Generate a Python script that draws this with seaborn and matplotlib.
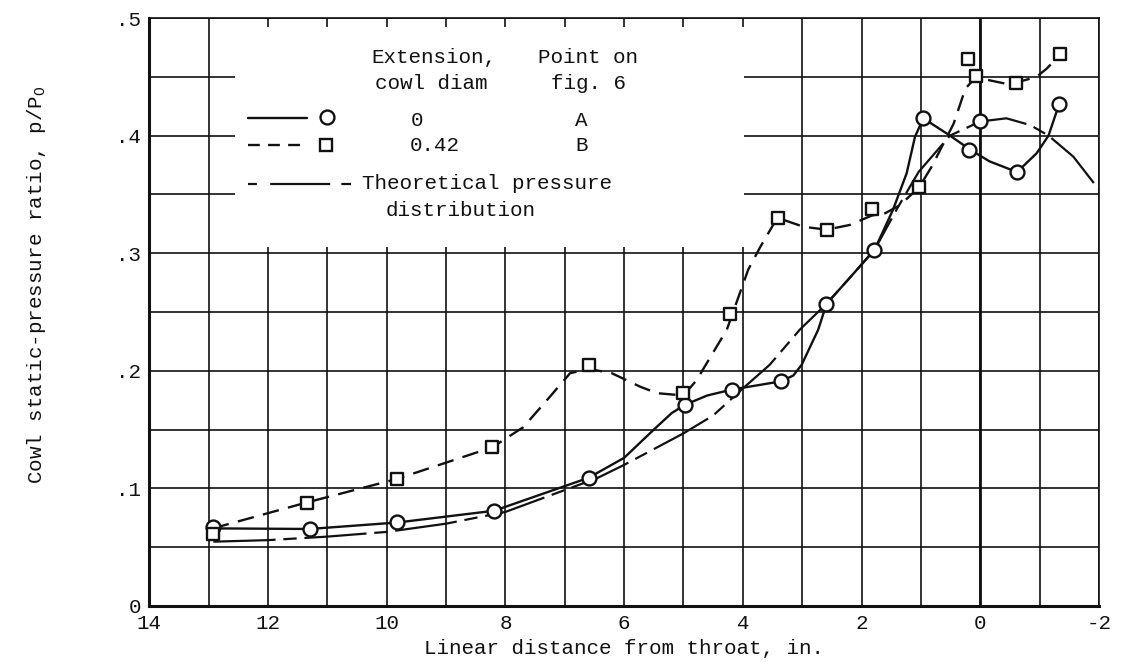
import numpy as np
import pandas as pd
import seaborn as sns
import matplotlib
matplotlib.use("Agg")
import matplotlib.pyplot as plt
from matplotlib.lines import Line2D
from matplotlib.patches import Rectangle

# ---------------- data ----------------
# Extension 0 cowl diam (point A) - circles, solid faired curve
A_x = [12.92, 11.30, 9.82, 8.19, 6.60, 4.98, 4.19, 3.36, 2.60, 1.79, 0.97, 0.19, 0.0, -0.62, -1.33]
A_y = [0.067, 0.0655, 0.0714, 0.081, 0.109, 0.171, 0.184, 0.191, 0.257, 0.303, 0.4147, 0.388, 0.412, 0.369, 0.427]
A_line_x = [12.92, 11.30, 9.82, 8.19, 6.60, 6.0, 5.5, 5.2, 4.98, 4.6, 4.19, 3.36, 3.15, 3.01, 2.73,
            2.59, 2.2, 1.78, 1.47, 1.24, 1.10, 0.96, 0.51, 0.17, -0.16, -0.62, -0.95, -1.15, -1.33]
A_line_y = [0.066, 0.0655, 0.071, 0.081, 0.109, 0.126, 0.150, 0.164, 0.171, 0.179, 0.184, 0.191, 0.196,
            0.205, 0.235, 0.257, 0.279, 0.303, 0.337, 0.368, 0.399, 0.4147, 0.40, 0.388, 0.378, 0.369,
            0.385, 0.40, 0.427]

# Extension 0.42 cowl diam (point B) - squares, dashed faired curve
B_x = [12.93, 11.35, 9.83, 8.22, 6.59, 5.0, 4.22, 3.41, 2.59, 1.83, 1.03, 0.21, 0.07, -0.60, -1.35]
B_y = [0.061, 0.088, 0.108, 0.135, 0.205, 0.181, 0.248, 0.3297, 0.320, 0.338, 0.3566, 0.465, 0.4507, 0.445, 0.469]
B_line_x = [12.93, 11.35, 9.83, 8.22, 7.70, 7.25, 6.91, 6.59, 6.21, 5.73, 5.45, 5.0, 4.78, 4.27, 3.91,
            3.71, 3.49, 3.41, 2.98, 2.59, 2.2, 1.83, 1.6, 1.35, 1.03, 0.82, 0.45, 0.25, 0.07, -0.16,
            -0.44, -0.60, -0.95, -1.12, -1.35]
B_line_y = [0.066, 0.088, 0.108, 0.135, 0.152, 0.178, 0.198, 0.2015, 0.198, 0.1865, 0.181, 0.179, 0.192,
            0.235, 0.286, 0.305, 0.324, 0.33, 0.3225, 0.320, 0.324, 0.332, 0.334, 0.341, 0.356, 0.3735,
            0.41, 0.44, 0.45, 0.447, 0.444, 0.445, 0.45, 0.457, 0.469]

# Theoretical pressure distribution
theory_x = [12.92, 12.0, 11.0, 10.0, 9.0, 8.0, 7.0, 6.46, 6.0, 5.0, 4.5, 4.0, 3.55, 3.04, 2.59, 2.2,
            1.78, 1.4, 1.04, 0.51, 0.0, -0.44, -0.84, -1.15, -1.57, -2.0]
theory_y = [0.0547, 0.056, 0.059, 0.063, 0.070, 0.080, 0.0986, 0.1086, 0.120, 0.1468, 0.162, 0.185,
            0.205, 0.235, 0.257, 0.279, 0.303, 0.338, 0.369, 0.40, 0.412, 0.4147, 0.409, 0.40, 0.382, 0.354]

x_ticks = [14, 12, 10, 8, 6, 4, 2, 0, -2]
x_tick_labels = ["14", "12", "10", "8", "6", "4", "2", "0", "-2"]
y_ticks = [0.0, 0.1, 0.2, 0.3, 0.4, 0.5]
y_tick_labels = ["0", ".1", ".2", ".3", ".4", ".5"]

# ---------------- styling ----------------
sns.set_style("white")
plt.rcParams['font.family'] = ['Liberation Mono', 'DejaVu Sans Mono']
plt.rcParams['mathtext.fontset'] = 'custom'
plt.rcParams['mathtext.rm'] = 'Liberation Mono'
plt.rcParams['mathtext.it'] = 'Liberation Mono'
FS = 15
INK = '#111111'

fig = plt.figure(figsize=(11.26, 6.62), dpi=100)
ax = fig.add_axes([0.1326, 0.0846, 0.8434, 0.8882])
ax.set_xlim(14, -2)
ax.set_ylim(0, 0.5)
ax.set_xticks(x_ticks)
ax.set_xticklabels(x_tick_labels)
ax.set_xticks(np.arange(-2, 15, 1), minor=True)
ax.set_yticks(y_ticks)
ax.set_yticklabels(y_tick_labels)
ax.set_yticks(np.arange(0, 0.51, 0.05), minor=True)
ax.set_axisbelow(True)
ax.grid(which='both', color=INK, lw=1.2, zorder=0.5)
ax.tick_params(which='both', length=0, labelsize=FS, colors=INK)
ax.tick_params(axis='x', pad=6)
ax.tick_params(axis='y', pad=6)
for s in ['left', 'bottom']:
    ax.spines[s].set_linewidth(2.2)
    ax.spines[s].set_color(INK)
for s in ['top', 'right']:
    ax.spines[s].set_linewidth(1.2)
    ax.spines[s].set_color(INK)
ax.axvline(0, color=INK, lw=2.0, zorder=0.8)

# white legend box masking grid
ax.add_patch(Rectangle((0.090, 0.6105), 0.536, 0.374, transform=ax.transAxes,
                       facecolor='white', edgecolor='none', zorder=1))

# ---------------- curves ----------------
sns.lineplot(x=theory_x, y=theory_y, sort=False, estimator=None, color=INK, lw=1.6, ax=ax, zorder=3)
ax.lines[-1].set_dashes([28, 3.5, 6, 3.5])
sns.lineplot(x=A_line_x, y=A_line_y, sort=False, estimator=None, color=INK, lw=1.7, ax=ax, zorder=3)
sns.lineplot(x=B_line_x, y=B_line_y, sort=False, estimator=None, color=INK, lw=1.7, ax=ax, zorder=3)
ax.lines[-1].set_dashes([7, 4])

sns.scatterplot(x=A_x, y=A_y, marker='o', s=100, facecolor='white', edgecolor=INK, linewidth=1.7,
                ax=ax, zorder=5)
sns.scatterplot(x=B_x, y=B_y, marker='s', s=85, facecolor='white', edgecolor=INK, linewidth=1.7,
                ax=ax, zorder=5)

ax.set_xlabel("Linear distance from throat, in.", fontsize=FS, color=INK, labelpad=4)
ax.set_ylabel("")
fig.text(0.032, 0.57, "Cowl static-pressure ratio, p/P$_\\mathrm{O}$", rotation=90,
         ha='center', va='center', fontsize=FS, color=INK)

# ---------------- legend (drawn as a table) ----------------
T = ax.transAxes
def txt(x, y, s, ha='center'):
    ax.text(x, y, s, transform=T, ha=ha, va='center', fontsize=FS, color=INK, zorder=6)

txt(0.300, 0.932, "Extension,")
txt(0.297, 0.888, "cowl diam")
txt(0.462, 0.932, "Point on")
txt(0.462, 0.888, "fig. 6")

l1 = Line2D([0.104, 0.166], [0.830, 0.830], transform=T, color=INK, lw=1.7, zorder=6)
ax.add_line(l1)
ax.plot([0.187], [0.832], transform=T, marker='o', ms=10, mfc='white', mec=INK, mew=1.7, zorder=6)
txt(0.282, 0.826, "0")
txt(0.455, 0.826, "A")

l2 = Line2D([0.104, 0.166], [0.784, 0.784], transform=T, color=INK, lw=1.7, zorder=6)
l2.set_dashes([5, 3.5])
ax.add_line(l2)
ax.plot([0.186], [0.784], transform=T, marker='s', ms=9, mfc='white', mec=INK, mew=1.7, zorder=6)
txt(0.301, 0.783, "0.42")
txt(0.455, 0.783, "B")

l3 = Line2D([0.104, 0.212], [0.718, 0.718], transform=T, color=INK, lw=1.6, zorder=6)
l3.set_dashes([4, 6, 27, 5, 5, 40])
ax.add_line(l3)
txt(0.224, 0.718, "Theoretical pressure", ha='left')
txt(0.328, 0.673, "distribution")

fig.savefig("out.png", dpi=100, facecolor='white')
